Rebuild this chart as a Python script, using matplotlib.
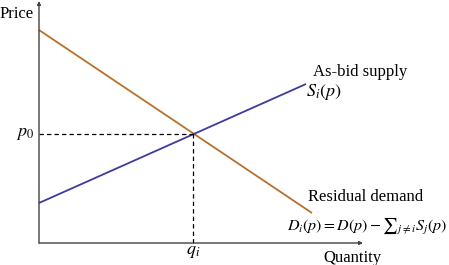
import matplotlib
matplotlib.use("Agg")
import matplotlib.pyplot as plt

plt.rcParams['font.family'] = ['Liberation Serif', 'DejaVu Serif']
plt.rcParams['mathtext.fontset'] = 'stix'

# Line endpoints (quantity, price)
supply_q = [0, 267]
supply_p = [40, 159]
demand_q = [0, 273]
demand_p = [213, 30]
# Equilibrium point
q_eq = 154
p_eq = 109

supply_color = '#3B3BA0'
demand_color = '#B8702A'
axis_color = '#404040'

fig = plt.figure(figsize=(4.49, 2.65), dpi=100)
ax = fig.add_axes([0, 0, 1, 1])
ax.set_xlim(-39, 410)
ax.set_ylim(-22, 243)
ax.axis('off')

# Axes with small arrowheads
ax.annotate('', xy=(0, 242), xytext=(0, 0),
            arrowprops=dict(arrowstyle='-|>', color=axis_color, lw=1.0,
                            mutation_scale=5, shrinkA=0, shrinkB=0))
ax.annotate('', xy=(324, 0), xytext=(0, 0),
            arrowprops=dict(arrowstyle='-|>', color=axis_color, lw=1.0,
                            mutation_scale=5, shrinkA=0, shrinkB=0))

# Curves
ax.plot(demand_q, demand_p, color=demand_color, lw=1.3, solid_capstyle='butt')
ax.plot(supply_q, supply_p, color=supply_color, lw=1.3, solid_capstyle='butt')

# Dashed guides to the equilibrium
ax.plot([0, q_eq], [p_eq, p_eq], color='black', lw=0.9, linestyle=(0, (3.5, 2.5)))
ax.plot([q_eq, q_eq], [0, p_eq], color='black', lw=0.9, linestyle=(0, (3.5, 2.5)))

fs = 12
ax.text(-39, 229, 'Price', fontsize=fs, ha='left', va='center')
ax.text(-5, p_eq, r'$p_0$', fontsize=fs + 1, ha='right', va='center')
ax.text(q_eq, -9, r'$q_i$', fontsize=fs + 1, ha='center', va='center')
ax.text(284, -15, 'Quantity', fontsize=fs, ha='left', va='center')
ax.text(274, 171, 'As-bid supply', fontsize=fs, ha='left', va='center')
ax.text(267, 151, r'$S_i(p)$', fontsize=fs + 1, ha='left', va='center')
ax.text(269, 46, 'Residual demand', fontsize=fs, ha='left', va='center')
ax.text(408, 17, r'$D_i(p) = D(p) - {\sum}_{j\neq i} S_j(p)$', fontsize=11.5,
        ha='right', va='center')

fig.savefig('out.png', dpi=100)
